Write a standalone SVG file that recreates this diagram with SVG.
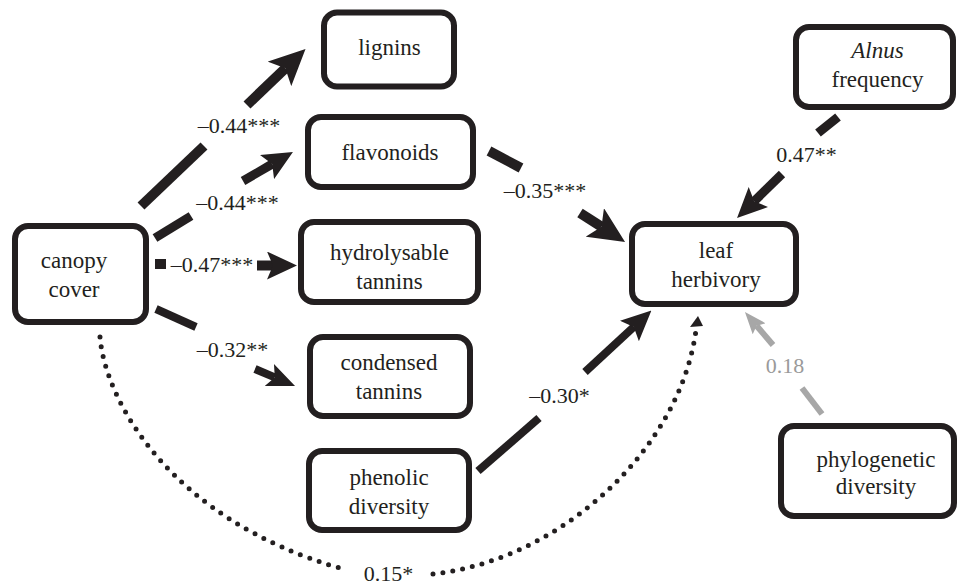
<svg xmlns="http://www.w3.org/2000/svg" width="960" height="586" viewBox="0 0 960 586" font-family="Liberation Serif, Times New Roman, Tinos, Noto Serif, DejaVu Serif, serif">
<style>
  .box { fill: #fff; stroke: #231f20; stroke-width: 6; }
  .t { font-size: 23px; fill: #231f20; text-anchor: middle; }
  .lab { font-size: 22px; fill: #231f20; text-anchor: middle; }
  .blk { stroke: #231f20; fill: none; stroke-linecap: butt; }
  .gry { stroke: #a7a7a7; fill: none; stroke-width: 6; }
  .dots { stroke: #231f20; fill: none; stroke-width: 5; stroke-linecap: round; stroke-dasharray: 0 10; }
</style>
<defs>
  <marker id="hBig" markerUnits="userSpaceOnUse" markerWidth="36" markerHeight="34" viewBox="0 0 36 34" refX="8" refY="17" orient="auto">
    <path d="M0,0 L36,17 L0,34 L8,17 Z" fill="#231f20"/>
  </marker>
  <marker id="hMed" markerUnits="userSpaceOnUse" markerWidth="30" markerHeight="28" viewBox="0 0 30 28" refX="6" refY="14" orient="auto">
    <path d="M0,0 L30,14 L0,28 L6,14 Z" fill="#231f20"/>
  </marker>
  <marker id="hSm" markerUnits="userSpaceOnUse" markerWidth="28" markerHeight="24" viewBox="0 0 28 24" refX="6" refY="12" orient="auto">
    <path d="M0,0 L28,12 L0,24 L6,12 Z" fill="#231f20"/>
  </marker>
  <marker id="hGry" markerUnits="userSpaceOnUse" markerWidth="22" markerHeight="17" viewBox="0 0 22 17" refX="4" refY="8.5" orient="auto">
    <path d="M0,0 L22,8.5 L0,17 L4,8.5 Z" fill="#a7a7a7"/>
  </marker>
</defs>
<rect width="960" height="586" fill="#fff"/>

<g id="connectors">
  <!-- canopy -> lignins -->
  <line class="blk" stroke-width="10" x1="141" y1="206" x2="204" y2="146"/>
  <line class="blk" stroke-width="10" x1="247" y1="105" x2="285.3" y2="68.3" marker-end="url(#hBig)"/>
  <text class="lab" x="239" y="133">–0.44***</text>
  <!-- canopy -> flavonoids -->
  <line class="blk" stroke-width="9" x1="155" y1="238" x2="191" y2="216"/>
  <line class="blk" stroke-width="9" x1="243" y1="181" x2="272.2" y2="164" marker-end="url(#hMed)"/>
  <text class="lab" x="237.5" y="210">–0.44***</text>
  <!-- canopy -> hydrolysable tannins -->
  <rect x="155" y="259" width="11" height="10" fill="#231f20"/>
  <line class="blk" stroke-width="10" x1="257" y1="265.5" x2="273" y2="265.5" marker-end="url(#hMed)"/>
  <text class="lab" x="212" y="272" font-size="20">–0.47***</text>
  <!-- canopy -> condensed tannins -->
  <line class="blk" stroke-width="8" x1="156" y1="309" x2="196" y2="327"/>
  <line class="blk" stroke-width="8" x1="255" y1="369" x2="274.8" y2="377.4" marker-end="url(#hSm)"/>
  <text class="lab" x="232.5" y="357" font-size="23">–0.32**</text>
  <!-- flavonoids -> leaf herbivory -->
  <line class="blk" stroke-width="10" x1="489" y1="151" x2="521" y2="168"/>
  <line class="blk" stroke-width="10" x1="580" y1="213" x2="601.5" y2="226.8" marker-end="url(#hBig)"/>
  <text class="lab" x="545" y="198">–0.35***</text>
  <!-- Alnus frequency -> leaf herbivory -->
  <line class="blk" stroke-width="9" x1="838" y1="117" x2="818" y2="133"/>
  <line class="blk" stroke-width="9" x1="782" y1="174" x2="754.2" y2="201.2" marker-end="url(#hMed)"/>
  <text class="lab" x="806.5" y="162" font-size="21">0.47**</text>
  <!-- phenolic diversity -> leaf herbivory -->
  <line class="blk" stroke-width="8" x1="478" y1="471" x2="539" y2="418"/>
  <line class="blk" stroke-width="8" x1="585" y1="372" x2="633.8" y2="326.9" marker-end="url(#hMed)"/>
  <text class="lab" x="559.5" y="403">–0.30*</text>
  <!-- phylogenetic diversity -> leaf herbivory -->
  <line class="gry" x1="822" y1="414" x2="802" y2="388"/>
  <line class="gry" x1="773" y1="345" x2="756.6" y2="325.7" marker-end="url(#hGry)"/>
  <text class="lab" x="785" y="373" font-size="20" style="fill:#9a9a9a">0.18</text>
  <!-- canopy cover -> leaf herbivory (dotted) -->
  <path class="dots" d="M100,337 C105,400 170,520 343,569"/>
  <path class="dots" d="M433,574 C560,560 680,450 696,330"/>
  <polygon points="698,316 690,327 703,326" fill="#231f20"/>
  <text class="lab" x="388.5" y="581" font-size="21">0.15*</text>
</g>

<g id="canopy-cover">
  <rect class="box" x="15" y="226" width="131" height="96" rx="13"/>
  <text class="t" x="74" y="268">canopy</text>
  <text class="t" x="74" y="297">cover</text>
</g>
<g id="lignins">
  <rect class="box" x="324" y="12.5" width="130" height="74" rx="13"/>
  <text class="t" x="389.5" y="55">lignins</text>
</g>
<g id="flavonoids">
  <rect class="box" x="308" y="117" width="165" height="70" rx="13"/>
  <text class="t" x="390" y="160">flavonoids</text>
</g>
<g id="hydrolysable-tannins">
  <rect class="box" x="301" y="222" width="177" height="80" rx="13"/>
  <text class="t" x="389.5" y="260">hydrolysable</text>
  <text class="t" x="389.5" y="289">tannins</text>
</g>
<g id="condensed-tannins">
  <rect class="box" x="310" y="337" width="160" height="79" rx="13"/>
  <text class="t" x="389" y="370">condensed</text>
  <text class="t" x="389" y="399">tannins</text>
</g>
<g id="phenolic-diversity">
  <rect class="box" x="309" y="451" width="160" height="79" rx="13"/>
  <text class="t" x="389" y="485">phenolic</text>
  <text class="t" x="389" y="514">diversity</text>
</g>
<g id="leaf-herbivory">
  <rect class="box" x="632" y="224" width="164" height="80" rx="13"/>
  <text class="t" x="716" y="258">leaf</text>
  <text class="t" x="716" y="287">herbivory</text>
</g>
<g id="alnus-frequency">
  <rect class="box" x="796" y="27" width="157" height="80" rx="13"/>
  <text class="t" x="877.5" y="58" font-style="italic">Alnus</text>
  <text class="t" x="877.5" y="87">frequency</text>
</g>
<g id="phylogenetic-diversity">
  <rect class="box" x="781" y="426" width="173" height="90" rx="13"/>
  <text class="t" x="876" y="467">phylogenetic</text>
  <text class="t" x="876" y="494">diversity</text>
</g>
</svg>
